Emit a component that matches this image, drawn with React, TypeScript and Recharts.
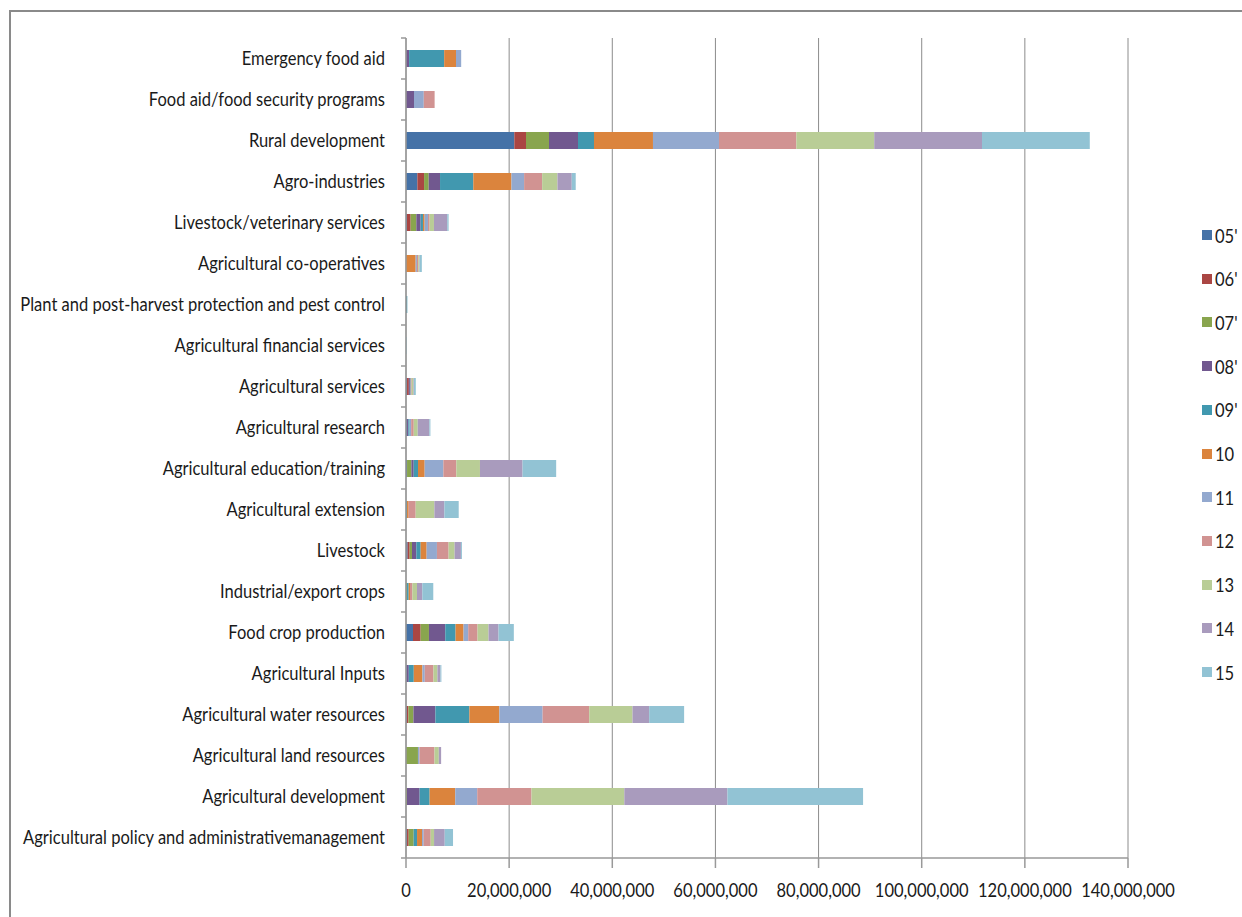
import React from "react";
import { BarChart, Bar, XAxis, YAxis, CartesianGrid } from "recharts";

// categories listed top to bottom as they appear on the axis
const categories = [
  "Emergency food aid",
  "Food aid/food security programs",
  "Rural development",
  "Agro-industries",
  "Livestock/veterinary services",
  "Agricultural co-operatives",
  "Plant and post-harvest protection and pest control",
  "Agricultural financial services",
  "Agricultural services",
  "Agricultural research",
  "Agricultural education/training",
  "Agricultural extension",
  "Livestock",
  "Industrial/export crops",
  "Food crop production",
  "Agricultural Inputs",
  "Agricultural water resources",
  "Agricultural land resources",
  "Agricultural development",
  "Agricultural policy and administrativemanagement",
];

// yearly amounts, in millions
const y05 = [0, 0, 21.0, 2.2, 0.19, 0, 0, 0, 0.2, 0.2, 0.2, 0, 0.32, 0, 1.36, 0.15, 0.15, 0, 0, 0.2];
const y06 = [0, 0, 2.27, 1.3, 0.71, 0, 0, 0, 0.35, 0, 0, 0, 0.39, 0, 1.48, 0, 0.32, 0, 0, 0.32];
const y07 = [0, 0, 4.46, 0.9, 1.1, 0, 0, 0, 0, 0, 0.84, 0, 0.45, 0.2, 1.61, 0, 0.97, 2.32, 0.19, 0.97];
const y08 = [0.6, 1.55, 5.62, 2.2, 0.84, 0, 0, 0, 0.2, 0.25, 0.45, 0, 0.84, 0, 3.16, 0.39, 4.26, 0, 2.45, 0];
const y09 = [6.8, 0, 3.1, 6.45, 0.45, 0, 0.25, 0, 0.15, 0.25, 0.84, 0.2, 0.84, 0.32, 2.0, 0.97, 6.59, 0, 1.94, 0.65];
const y10 = [2.3, 0, 11.44, 7.4, 0.32, 1.87, 0, 0, 0, 0, 1.29, 0.32, 1.16, 0.26, 1.55, 1.68, 5.81, 0, 4.97, 0.97];
const y11 = [1.0, 1.9, 12.8, 2.45, 0.65, 0.25, 0, 0, 0, 0.3, 3.62, 0, 2.0, 0, 0.9, 0.45, 8.39, 0.3, 4.26, 0.32];
const y12 = [0, 2.1, 15.0, 3.5, 0.32, 0.25, 0, 0, 0.2, 0.5, 2.52, 1.36, 2.26, 0.45, 1.81, 1.68, 9.04, 2.9, 10.52, 1.36];
const y13 = [0, 0, 15.1, 2.97, 0.84, 0.2, 0, 0, 0.35, 0.77, 4.58, 3.62, 1.16, 0.9, 2.13, 0.77, 8.39, 0.84, 18.0, 0.65];
const y14 = [0, 0, 20.9, 2.77, 2.58, 0.1, 0, 0, 0.1, 2.26, 8.26, 1.94, 1.23, 1.03, 1.94, 0.58, 3.23, 0.45, 20.0, 2.07];
const y15 = [0, 0, 20.9, 0.77, 0.26, 0.4, 0, 0.15, 0.35, 0.2, 6.52, 2.78, 0.19, 2.13, 2.97, 0.19, 6.78, 0, 26.3, 1.61];

const seriesNames = ["05'", "06'", "07'", "08'", "09'", "10", "11", "12", "13", "14", "15"];
const seriesValues = [y05, y06, y07, y08, y09, y10, y11, y12, y13, y14, y15];
const seriesColors = [
  "#4572A7", "#AA4643", "#89A54E", "#71588F", "#4198AF", "#DB843D",
  "#93A9CF", "#D19392", "#B9CD96", "#A99BBD", "#92C3D4",
];

const xTicks = [0, 20000000, 40000000, 60000000, 80000000, 100000000, 120000000, 140000000];

const rows = categories.map((name, i) => {
  const row: Record<string, string | number> = { name };
  seriesNames.forEach((s, k) => {
    row[s] = Math.round(seriesValues[k][i] * 1e6);
  });
  return row;
});

const FONT = "Lato, 'Liberation Sans', sans-serif";
const SQUEEZE = 0.87;
const BAND = 41;

function CategoryTick(props: any) {
  const { x, y, payload, index } = props;
  const axisX = x;
  return (
    <g>
      <line x1={axisX - 5} x2={axisX} y1={y - BAND / 2} y2={y - BAND / 2} stroke="#999" strokeWidth={1.5} />
      {index === categories.length - 1 && (
        <line x1={axisX - 5} x2={axisX} y1={y + BAND / 2} y2={y + BAND / 2} stroke="#999" strokeWidth={1.5} />
      )}
      <text
        transform={`translate(${axisX - 21},${y}) scale(${SQUEEZE},1)`}
        textAnchor="end"
        dy="0.36em"
        fontSize={19}
        fontFamily={FONT}
        fill="#1a1a1a"
      >
        {payload.value}
      </text>
    </g>
  );
}

function ValueTick(props: any) {
  const { x, y, payload } = props;
  return (
    <text
      transform={`translate(${x},${y}) scale(${SQUEEZE},1)`}
      textAnchor="middle"
      dy="0.9em"
      fontSize={19}
      fontFamily={FONT}
      fill="#1a1a1a"
    >
      {Number(payload.value).toLocaleString("en-US")}
    </text>
  );
}

export default function App() {
  return (
    <div
      style={{
        position: "absolute",
        left: 0,
        top: 0,
        width: 1242,
        height: 917,
        background: "#fff",
        overflow: "hidden",
      }}
    >
      {/* chart area frame */}
      <div
        style={{
          position: "absolute",
          left: 9,
          top: 10,
          width: 1260,
          height: 940,
          borderTop: "2px solid #8a8a8a",
          borderLeft: "2px solid #8a8a8a",
        }}
      />
      <div style={{ position: "absolute", left: 0, top: 0 }}>
        <BarChart
          width={1242}
          height={917}
          data={rows}
          layout="vertical"
          barSize={17}
          margin={{ top: 38, right: 114, bottom: 0, left: 0 }}
        >
          <CartesianGrid horizontal={false} stroke="#8c8c8c" strokeWidth={1} />
          <XAxis
            type="number"
            domain={[0, 140000000]}
            ticks={xTicks}
            height={59}
            stroke="#999"
            strokeWidth={1.5}
            tickSize={10}
            tickMargin={12}
            tick={<ValueTick />}
            interval={0}
          />
          <YAxis
            type="category"
            dataKey="name"
            width={406}
            stroke="#999"
            strokeWidth={1.5}
            tickLine={false}
            tickSize={0}
            tickMargin={0}
            tick={<CategoryTick />}
            interval={0}
          />
          {seriesNames.map((s, k) => (
            <Bar
              key={s}
              dataKey={s}
              stackId="total"
              fill={seriesColors[k]}
              isAnimationActive={false}
            />
          ))}
        </BarChart>
      </div>
      {/* legend */}
      {seriesNames.map((s, k) => (
        <div
          key={s}
          style={{
            position: "absolute",
            left: 1202,
            top: 235 + k * 43.7 - 12,
            height: 24,
            display: "flex",
            alignItems: "center",
            fontFamily: FONT,
            fontSize: 19,
            color: "#1a1a1a",
          }}
        >
          <span style={{ width: 10, height: 10, background: seriesColors[k], marginRight: 3 }} />
          <span style={{ display: "inline-block", transform: `scaleX(${SQUEEZE})`, transformOrigin: "left center" }}>
            {s}
          </span>
        </div>
      ))}
    </div>
  );
}
